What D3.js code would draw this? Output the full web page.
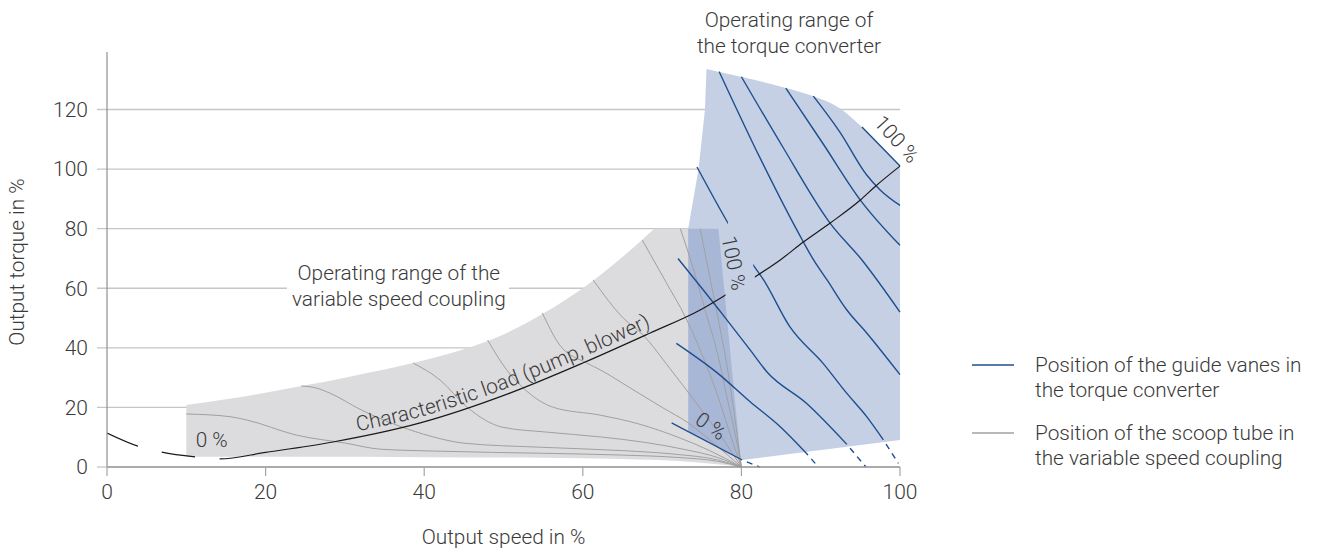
<!DOCTYPE html>
<html><head><meta charset="utf-8">
<script src="https://cdn.jsdelivr.net/npm/d3@7"></script>
<style>
body{margin:0;background:#fff}
text{font-family:Roboto,'Liberation Sans',sans-serif;font-weight:300;fill:#3a3a3a}
</style>
</head><body>
<svg id="c" width="1317" height="556"></svg>
<script>
// ---- data (speed %, torque %) ----
const xTicks=[0,20,40,60,80,100];
const yTicks=[0,20,40,60,80,100,120];

const couplingTop=[[10,20.8],[15,22.7],[20,24.9],[25,27.4],[30,30],[35,32.7],[40,35.8],[45,39.5],[50,44.5],[55,51.5],[60,60],[65,70.5],[69,80]];
const couplingRight=[[69,80],[77.1,80],[80,0]];
const couplingBottom=[[80,0],[77,0.9],[72,2.0],[65,2.7],[55,3.1],[40,3.3],[25,3.4],[10,3.4]];

const converterTop=[[75.6,133.6],[77.2,132.6],[80.1,130.9],[85.6,127.2],[89,124.5],[92.4,120.4],[95.2,114.1],[100,101]];
const converterRest=[[100,101],[100,9.1],[80.1,2.35],[73.3,11.9],[73.3,80.1],[74.6,100],[75.4,119.8],[75.6,133.6]];
const overlap=[[73.3,80],[77.1,80],[79.9,2.5],[73.3,11.9]];

const scoopLines=[
 [[10,17.8],[15.5,16.9],[17.6,15.8],[23.9,10.7],[30.2,7.95],[34.4,6.0],[42,5.3],[55,4.6],[65,4.0],[72,3.2],[77,1.9],[80,0]],
 [[24.5,27.2],[26.4,26.5],[28.1,24.8],[32.1,19.1],[36.7,13.9],[41,10.2],[45,8.0],[55,6.6],[65,5.5],[72,4.2],[77,2.4],[80,0]],
 [[38.6,34.9],[42,29.2],[45.4,20.1],[49.8,13.4],[55.5,11.7],[62.2,10.1],[68,8.2],[73,5.8],[77,3.2],[80,0]],
 [[48,42.6],[50.4,32.6],[52.5,26.5],[56.2,20.1],[62.2,17.4],[67,14.5],[72,10],[76,5.5],[80,0]],
 [[54.9,51.7],[57.1,40.9],[60.5,34.9],[62.2,32.6],[66,26.5],[70,20],[73.3,14.8],[76.5,8],[80,0]],
 [[61.3,62.8],[65.1,50],[67.6,44.3],[71,33],[74.5,20.8],[77.5,10],[80,0]],
 [[67.5,76.2],[70.5,62],[73,50],[75,38],[77,24],[78.7,10],[80,0]],
 [[72.3,80],[74,66],[75.5,52],[77,38],[78.3,22],[79.3,10],[80,0]],
 [[74.8,80],[76,64],[77.2,48],[78.3,32],[79.2,16],[80,0]]
];

const vaneLines=[
 [[95.2,114.1],[100,101]],
 [[89.07,124.5],[92.4,112.5],[95.8,98],[97.5,93],[100,87.8]],
 [[85.6,127.2],[90.3,108.5],[95,89.6],[100,74.4]],
 [[80,131],[85.2,107.5],[91.2,81.8],[95.2,69.5],[100,52]],
 [[77.2,132.7],[82.3,104],[87.8,75.6],[89.1,69.5],[90.8,62.8],[93.3,52.7],[95.8,45],[100,31]],
 [[72,70],[77.7,51],[81.1,39.3],[83.2,32],[88.2,21.4],[93.3,7.6]],
 [[71.8,41.5],[77,31.5],[81.1,21.9],[84.9,13.5],[88.4,4]],
 [[71.2,14.8],[80.1,2.35]]
];
const vaneBroken=[[74.4,100.7],[78.3,81.9],[81.5,67.8],[82.8,62.8],[86.1,47.1],[90.3,34.8],[93.3,24.7],[95.8,16.9],[97.9,9.1]];
const vaneBrokenGap=[78.3,81.5];
const vaneDashes=[
 [[97.9,9.1],[99.8,1.2]],
 [[93.3,7.6],[95.7,0]],
 [[88.4,4],[89.7,0]],
 [[80.1,2.35],[82.3,0]]
];

const loadCurve=[[0,11.4],[3.9,7.0],[6.9,5.0],[11.1,3.4],[14.2,2.7],[20,4.9],[28.5,8.4],[39.5,14.8],[50.8,24.8],[60,34.9],[68.5,45],[74.8,52.7],[78,57.7],[81.7,63.8],[84.9,69.5],[87.8,75.5],[91.2,81.9],[95,89.6],[96.8,94],[100,101]];
const loadVisible=[[0,3.9],[6.9,11.1],[14.2,78],[81.7,100.5]];

// ---- scales ----
const FS=20.8;
const svg=d3.select('#c');
const x=d3.scaleLinear().domain([0,100]).range([107,900]);
const y=d3.scaleLinear().domain([0,120]).range([467,109.5]);

const lin=d3.line().x(d=>x(d[0])).y(d=>y(d[1]));
const mono=d3.line().x(d=>x(d[0])).y(d=>y(d[1])).curve(d3.curveMonotoneX);
const L=s=>s.replace(/^M/,'L');

// gridlines
svg.append('g').selectAll('line').data(yTicks.filter(d=>d>0)).join('line')
 .attr('x1',97).attr('x2',x(100)).attr('y1',d=>y(d)).attr('y2',d=>y(d))
 .attr('stroke','#c6c6c6').attr('stroke-width',1.3);

// regions
svg.append('path')
 .attr('d',mono(couplingTop)+L(lin(couplingRight))+L(mono(couplingBottom))+'Z')
 .attr('fill','#dcdcde');
svg.append('path')
 .attr('d',mono(converterTop)+L(lin(converterRest))+'Z')
 .attr('fill','#c5d0e4');
svg.append('path').attr('d',lin(overlap)+'Z').attr('fill','#a9b7d7');

// white box behind coupling label
svg.append('rect').attr('x',287).attr('y',257).attr('width',222).attr('height',56).attr('fill','#fff');

// scoop tube lines
svg.append('g').selectAll('path').data(scoopLines).join('path')
 .attr('d',d=>mono(d)).attr('fill','none').attr('stroke','#a0a0a0').attr('stroke-width',1);

// vane lines
const vg=svg.append('g').attr('fill','none').attr('stroke','#1d4f8f').attr('stroke-width',1.4);
vg.selectAll('path.s').data(vaneLines).join('path').attr('class','s').attr('d',d=>mono(d));
vg.selectAll('path.d').data(vaneDashes).join('path').attr('class','d').attr('d',d=>lin(d))
 .attr('stroke-dasharray','6,5').attr('stroke-dashoffset',6);
const defs=svg.append('defs');
const cpV=defs.append('clipPath').attr('id','cpv');
cpV.append('rect').attr('x',0).attr('y',0).attr('width',x(vaneBrokenGap[0])).attr('height',556);
cpV.append('rect').attr('x',x(vaneBrokenGap[1])).attr('y',0).attr('width',1317-x(vaneBrokenGap[1])).attr('height',556);
vg.append('path').attr('d',mono(vaneBroken)).attr('clip-path','url(#cpv)');

// load curve
const cpL=defs.append('clipPath').attr('id','cpl');
cpL.selectAll('rect').data(loadVisible).join('rect')
 .attr('x',d=>x(d[0])).attr('width',d=>x(d[1])-x(d[0])).attr('y',0).attr('height',556);
svg.append('path').attr('d',mono(loadCurve)).attr('fill','none').attr('stroke','#1a1a1a')
 .attr('stroke-width',1.2).attr('clip-path','url(#cpl)');
const monoUp=d3.line().x(d=>x(d[0])).y(d=>y(d[1])-6).curve(d3.curveMonotoneX);
defs.append('path').attr('id','loadTxt').attr('d',monoUp(loadCurve.filter(d=>d[0]>=28.5)));
svg.append('text').attr('font-size',FS).append('textPath').attr('href','#loadTxt')
 .attr('startOffset',25).text('Characteristic load (pump, blower)');

// axes
svg.append('line').attr('x1',x(0)).attr('x2',x(0)).attr('y1',52).attr('y2',y(0)).attr('stroke','#8f8f8f').attr('stroke-width',1.2);
svg.append('line').attr('x1',x(0)).attr('x2',x(100)).attr('y1',y(0)).attr('y2',y(0)).attr('stroke','#8f8f8f').attr('stroke-width',1.5);
svg.append('line').attr('x1',97).attr('x2',x(0)).attr('y1',y(0)).attr('y2',y(0)).attr('stroke','#c6c6c6').attr('stroke-width',1.3);
svg.append('g').selectAll('line').data(xTicks).join('line')
 .attr('x1',d=>x(d)).attr('x2',d=>x(d)).attr('y1',y(0)).attr('y2',y(0)+9).attr('stroke','#a5a5a5').attr('stroke-width',1.2);
svg.append('g').selectAll('text').data(xTicks).join('text')
 .attr('x',d=>x(d)).attr('y',y(0)+25).attr('dy','0.35em').attr('text-anchor','middle').attr('font-size',21).text(d=>d);
svg.append('g').selectAll('text').data(yTicks).join('text')
 .attr('x',88).attr('y',d=>y(d)).attr('dy','0.35em').attr('text-anchor','end').attr('font-size',21).text(d=>d);
svg.append('text').attr('x',(x(0)+x(100))/2).attr('y',537).attr('dy','0.35em').attr('text-anchor','middle').attr('font-size',FS).text('Output speed in %');
svg.append('text').attr('transform','translate(17,262) rotate(-90)').attr('dy','0.35em').attr('text-anchor','middle').attr('font-size',FS).text('Output torque in %');

// labels
function lab(px,py,rot,t){
 svg.append('text').attr('transform',`translate(${x(px)},${y(py)}) rotate(${rot})`)
  .attr('text-anchor','middle').attr('dy','0.35em').attr('font-size',FS).text(t);
}
lab(13.2,9.06,0,'0 %');
lab(79.07,68.46,79,'100 %');
lab(76.17,13.76,35,'0 %');
lab(99.6,110.1,48,'100 %');

const cl=svg.append('text').attr('text-anchor','middle').attr('font-size',FS);
cl.append('tspan').attr('x',x(36.8)).attr('y',y(65.1)).attr('dy','0.35em').text('Operating range of the');
cl.append('tspan').attr('x',x(36.8)).attr('y',y(56.4)).attr('dy','0.35em').text('variable speed coupling');

const tl=svg.append('text').attr('text-anchor','middle').attr('font-size',FS);
tl.append('tspan').attr('x',x(86.0)).attr('y',20).attr('dy','0.35em').text('Operating range of');
tl.append('tspan').attr('x',x(86.0)).attr('y',46).attr('dy','0.35em').text('the torque converter');

// legend
const legend=[{c:'#1d4f8f',t:['Position of the guide vanes in','the torque converter'],y:365},
              {c:'#a0a0a0',t:['Position of the scoop tube in','the variable speed coupling'],y:433}];
legend.forEach(l=>{
 svg.append('line').attr('x1',972).attr('x2',1014).attr('y1',l.y).attr('y2',l.y).attr('stroke',l.c).attr('stroke-width',1.5);
 const t=svg.append('text').attr('font-size',FS);
 l.t.forEach((s,i)=>t.append('tspan').attr('x',1035).attr('y',l.y+i*25).attr('dy','0.35em').text(s));
});
</script>
</body></html>
